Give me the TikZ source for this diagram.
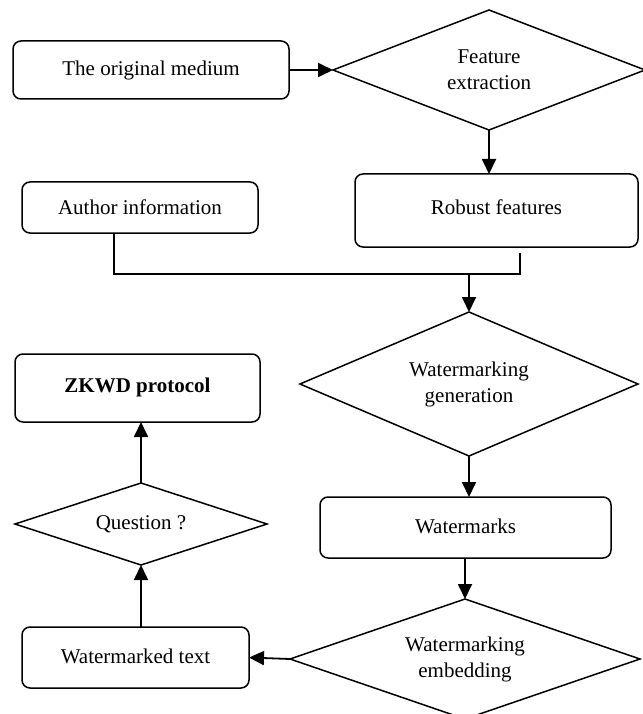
\documentclass[tikz,border=0pt]{standalone}
\usepackage{fontspec}
\setmainfont{Liberation Serif}
\usetikzlibrary{shapes.geometric,arrows.meta}
\begin{document}
\begin{tikzpicture}[x=1pt,y=-1pt,
  box/.style={draw, line width=1.5pt, rounded corners=8pt, inner sep=0pt, outer sep=0pt, font=\fontsize{21}{26}\selectfont},
  dia/.style={draw, diamond, line width=1.5pt, inner sep=0pt, outer sep=0pt, align=center, font=\fontsize{21}{26}\selectfont},
  arr/.style={line width=1.8pt, -{Triangle[length=15pt,width=14pt]}},
  con/.style={line width=1.5pt}]
\useasboundingbox (0,0) rectangle (642,714);

\node[box, minimum width=276, minimum height=58] (om) at (151,70) {The original medium};
\node[dia, aspect=2.6, minimum width=312, minimum height=120] (fe) at (489,70) {Feature\\extraction};
\node[box, minimum width=236, minimum height=51] (ai) at (140,207.5) {\raisebox{-2pt}{Author information}};
\node[box, minimum width=283, minimum height=73] (rf) at (496.5,210.5) {\raisebox{7pt}{Robust features}};
\node[dia, aspect=2.35, minimum width=338, minimum height=144] (gen) at (469,384) {Watermarking\\generation};
\node[box, minimum width=291, minimum height=61] (wm) at (465.5,527.5) {\raisebox{2.5pt}{Watermarks}};
\node[dia, aspect=2.9, minimum width=350, minimum height=120] (emb) at (465,659) {Watermarking\\embedding};
\node[box, minimum width=227, minimum height=61] (wt) at (135.5,657.5) {\raisebox{3.5pt}{Watermarked text}};
\node[dia, aspect=3.07, minimum width=252, minimum height=82] (q) at (141,524) {Question ?};
\node[box, minimum width=245, minimum height=68, font=\fontsize{21}{26}\selectfont\bfseries] (zk) at (137.5,388) {\raisebox{6pt}{ZKWD protocol}};

\coordinate (aj) at (114,274);
\coordinate (rj) at (520,274);
\coordinate (rs) at (520,253);
\coordinate (j) at (469,274);

\draw[arr] (om.east) -- (fe.west);
\draw[arr] (fe.south) -- (fe.south |- rf.north);
\draw[con] (ai.south -| aj) -- (aj) -- (rj) -- (rs);
\draw[arr] (j) -- (gen.north);
\draw[arr] (gen.south) -- (gen.south |- wm.north);
\draw[arr] (wm.south -| emb.north) -- (emb.north);
\draw[arr] (emb.west) -- (wt.east);
\draw[arr] (wt.north -| q.south) -- (q.south);
\draw[arr] (q.north) -- (q.north |- zk.south);
\end{tikzpicture}
\end{document}
